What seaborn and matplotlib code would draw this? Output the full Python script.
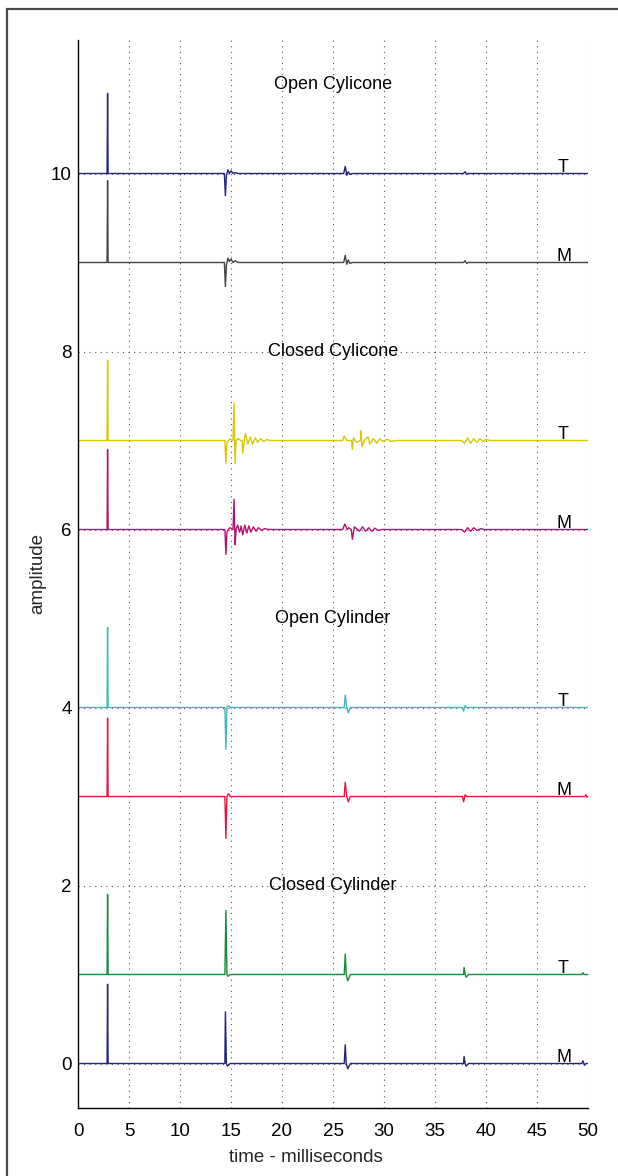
import matplotlib
matplotlib.use("Agg")
import matplotlib.pyplot as plt
import seaborn as sns
import pandas as pd
from matplotlib.patches import Rectangle

# ---- data: breakpoints (time in ms, amplitude relative to trace offset) ----
open_cylicone_T_time = [0, 2.85, 2.9, 2.95, 14.35, 14.45, 14.55, 14.7, 14.85, 15.0, 15.2, 15.4, 15.7, 26.05, 26.2, 26.35, 26.5, 26.65, 26.9, 37.8, 37.95, 38.1, 38.25, 50]
open_cylicone_T_amp = [0, 0, 0.90, 0, 0, -0.25, -0.02, 0.04, 0.0, 0.03, 0.0, 0.01, 0, 0, 0.08, -0.02, 0.02, -0.01, 0, 0, 0.02, -0.01, 0, 0]

open_cylicone_M_time = [0, 2.85, 2.9, 2.95, 14.35, 14.45, 14.55, 14.7, 14.85, 15.0, 15.2, 15.4, 15.7, 26.05, 26.2, 26.35, 26.5, 26.65, 26.9, 37.8, 37.95, 38.1, 38.25, 50]
open_cylicone_M_amp = [0, 0, 0.92, 0, 0, -0.27, -0.03, 0.05, 0.01, 0.04, 0.0, 0.02, 0, 0, 0.08, -0.02, 0.03, -0.01, 0, 0, 0.02, -0.01, 0, 0]

closed_cylicone_T_time = [0, 2.85, 2.9, 2.95,
                          14.4, 14.5, 14.6, 14.75, 14.9, 15.2, 15.3, 15.4, 15.5, 15.7, 15.95, 16.1, 16.15, 16.4, 16.65, 16.9, 17.1, 17.4, 17.6, 17.9, 18.2, 18.5, 18.9,
                          25.95, 26.1, 26.35, 26.8, 26.9, 27.0, 27.3, 27.7, 27.75, 27.85, 28.1, 28.45, 28.6, 28.95, 29.3, 29.6, 29.9, 30.3, 30.7, 31.2,
                          37.6, 37.9, 38.2, 38.5, 38.8, 39.1, 39.4, 39.7, 40.0, 40.4, 50]
closed_cylicone_T_amp = [0, 0, 0.90, 0,
                         0, -0.26, -0.02, 0.0, 0.02, 0.0, 0.42, -0.26, 0.0, 0.02, 0.0, 0.0, -0.14, 0.08, -0.04, 0.04, -0.04, 0.03, -0.02, 0.02, -0.01, 0.01, 0,
                         0, 0.05, 0.0, 0.0, -0.10, 0.03, -0.02, 0.0, 0.11, -0.07, 0.01, 0.04, -0.04, 0.02, -0.03, 0.02, -0.01, 0.015, -0.01, 0,
                         0, -0.03, 0.03, -0.03, 0.02, -0.02, 0.02, -0.01, 0.01, 0, 0]

closed_cylicone_M_time = [0, 2.85, 2.9, 2.95,
                          14.4, 14.5, 14.6, 14.75, 14.9, 15.2, 15.3, 15.4, 15.5, 15.65, 15.85, 16.0, 16.15, 16.35, 16.55, 16.75, 16.95, 17.2, 17.45, 17.7, 18.0, 18.3, 18.7,
                          25.95, 26.15, 26.4, 26.55, 26.8, 26.9, 27.1, 27.4, 27.6, 27.9, 28.2, 28.5, 28.8, 29.1, 29.4, 29.8,
                          37.6, 37.9, 38.2, 38.5, 38.8, 39.1, 39.5, 39.8, 50]
closed_cylicone_M_amp = [0, 0, 0.90, 0,
                         0, -0.28, -0.03, 0.0, 0.02, 0.0, 0.34, -0.17, 0.0, 0.05, -0.03, 0.04, -0.06, 0.05, -0.04, 0.04, -0.03, 0.03, -0.02, 0.02, -0.01, 0.01, 0,
                         0, 0.06, 0.0, 0.02, 0.0, -0.11, 0.03, 0.0, -0.02, 0.03, -0.02, 0.02, -0.02, 0.015, -0.01, 0,
                         0, -0.03, 0.02, -0.02, 0.02, -0.01, 0.01, 0, 0]

open_cylinder_T_time = [0, 2.85, 2.9, 2.95, 14.4, 14.5, 14.6, 14.75, 14.95, 26.1, 26.2, 26.35, 26.5, 26.7, 37.7, 37.8, 37.95, 38.1, 50]
open_cylinder_T_amp = [0, 0, 0.90, 0, 0, -0.47, 0, 0.02, 0, 0, 0.14, 0, -0.06, 0, 0, -0.04, 0.02, 0, 0]

open_cylinder_M_time = [0, 2.85, 2.9, 2.95, 14.4, 14.5, 14.6, 14.75, 14.95, 26.1, 26.2, 26.35, 26.5, 26.7, 37.7, 37.8, 37.95, 38.1, 49.7, 49.8, 49.9, 50]
open_cylinder_M_amp = [0, 0, 0.88, 0, 0, -0.47, 0, 0.03, 0, 0, 0.16, 0, -0.06, 0, 0, -0.06, 0.02, 0, 0, 0.02, -0.01, 0]

closed_cylinder_T_time = [0, 2.85, 2.9, 2.95, 14.4, 14.5, 14.6, 14.7, 14.9, 26.1, 26.2, 26.3, 26.45, 26.7, 37.8, 37.85, 37.95, 38.05, 38.3, 49.4, 49.5, 49.6, 50]
closed_cylinder_T_amp = [0, 0, 0.90, 0, 0, 0.72, 0, -0.02, 0, 0, 0.23, 0, -0.07, 0, 0, 0.08, 0, -0.03, 0, 0, 0.02, 0, 0]

closed_cylinder_M_time = [0, 2.85, 2.9, 2.95, 14.4, 14.45, 14.55, 14.65, 14.9, 26.1, 26.2, 26.3, 26.45, 26.7, 37.8, 37.85, 37.95, 38.05, 38.3, 49.4, 49.5, 49.65, 49.8, 50]
closed_cylinder_M_amp = [0, 0, 0.89, 0, 0, 0.58, 0, -0.03, 0, 0, 0.21, 0, -0.06, 0, 0, 0.08, 0, -0.03, 0, 0, 0.03, -0.02, 0, 0]

# trace offsets, colours, channel marks
traces = [
    ("Open Cylicone", "T", 10, "#23237a", open_cylicone_T_time, open_cylicone_T_amp),
    ("Open Cylicone", "M", 9, "#444444", open_cylicone_M_time, open_cylicone_M_amp),
    ("Closed Cylicone", "T", 7, "#d9c700", closed_cylicone_T_time, closed_cylicone_T_amp),
    ("Closed Cylicone", "M", 6, "#b3126e", closed_cylicone_M_time, closed_cylicone_M_amp),
    ("Open Cylinder", "T", 4, "#45b7b7", open_cylinder_T_time, open_cylinder_T_amp),
    ("Open Cylinder", "M", 3, "#e3173c", open_cylinder_M_time, open_cylinder_M_amp),
    ("Closed Cylinder", "T", 1, "#178a3c", closed_cylinder_T_time, closed_cylinder_T_amp),
    ("Closed Cylinder", "M", 0, "#23237a", closed_cylinder_M_time, closed_cylinder_M_amp),
]
group_titles = ["Open Cylicone", "Closed Cylicone", "Open Cylinder", "Closed Cylinder"]
title_levels = [11, 8, 5, 2]

x_ticks = [0, 5, 10, 15, 20, 25, 30, 35, 40, 45, 50]
y_ticks = [0, 2, 4, 6, 8, 10]

# ---- style ----
sns.set_style("white")
plt.rcParams["font.family"] = ["Liberation Sans", "DejaVu Sans"]
plt.rcParams["font.size"] = 13

fig = plt.figure(figsize=(6.18, 11.76), dpi=100)
ax = fig.add_axes([78 / 618, 1 - 1108 / 1176, (588 - 78) / 618, (1108 - 40) / 1176])

for name, chan, off, col, t, a in traces:
    df = pd.DataFrame({"time": t, "amplitude": [off + v for v in a]})
    sns.lineplot(data=df, x="time", y="amplitude", color=col, lw=1.0,
                 estimator=None, sort=False, ax=ax, legend=False)
    ax.text(47.6, off + 0.02, chan, ha="center", va="baseline", fontsize=13, color="black")

for title, lvl in zip(group_titles, title_levels):
    ax.text(25, lvl, title, ha="center", va="center", fontsize=13, color="black")

ax.set_xlim(0, 50)
ax.set_ylim(-0.5, 11.5)
ax.set_xticks(x_ticks)
ax.set_yticks(y_ticks)
ax.set_xlabel("time - milliseconds", fontsize=13.5, labelpad=6)
ax.set_ylabel("amplitude", fontsize=13.5, labelpad=3)
ax.xaxis.label.set_x((306 - 78) / 510)
ax.grid(True, color="#555555", linestyle=(0, (1, 4)), linewidth=0.8)
ax.set_axisbelow(True)
for side in ("top", "right"):
    ax.spines[side].set_visible(False)
for side in ("left", "bottom"):
    ax.spines[side].set_color("black")
    ax.spines[side].set_linewidth(1.0)
ax.tick_params(direction="in", length=7, width=1.0, colors="black", labelsize=13.5)
ax.tick_params(axis="x", pad=11)
ax.tick_params(axis="y", pad=4.5)

# outer frame
fig.patches.append(Rectangle((7 / 618, -0.05), 1.1, 1.05 - 9 / 1176, transform=fig.transFigure,
                             fill=False, edgecolor="#4a4a4a", linewidth=1.6))

fig.savefig("out.png", dpi=100, facecolor="white")
